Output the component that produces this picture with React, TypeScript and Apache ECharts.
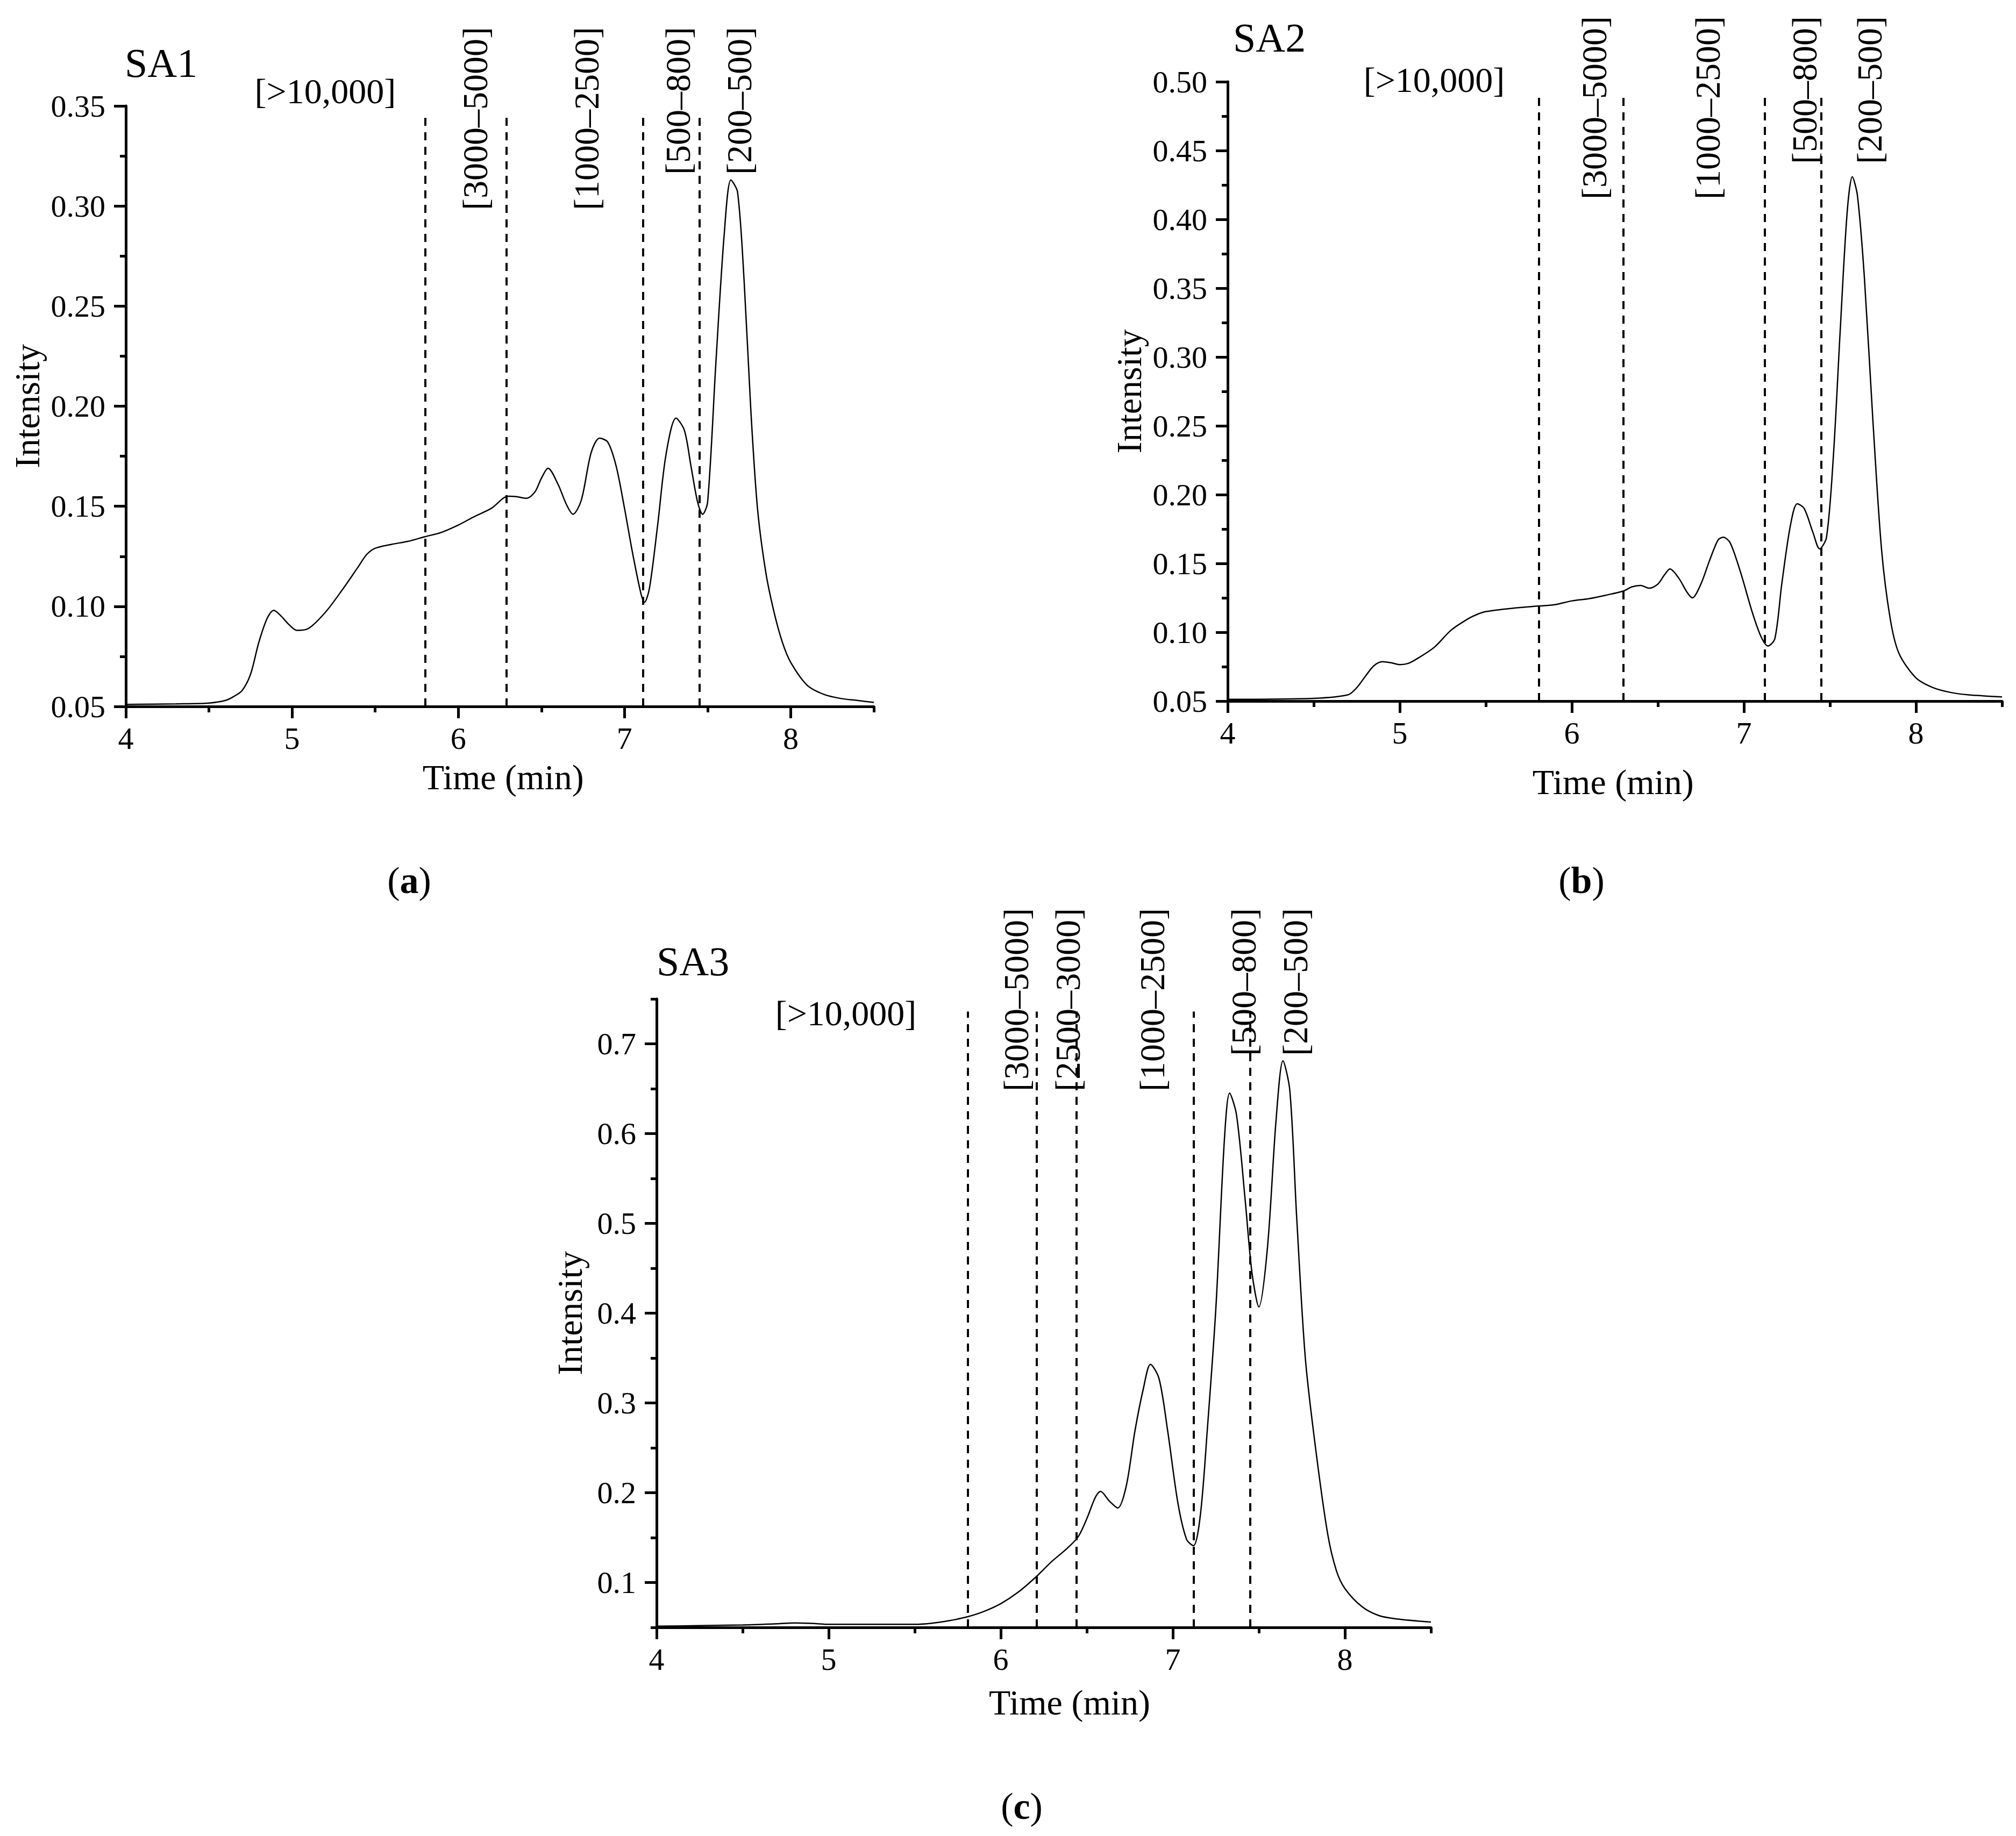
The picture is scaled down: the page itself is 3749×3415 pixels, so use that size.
import React, { useEffect, useRef } from "react";
import * as echarts from "echarts";

const W = 3749;
const H = 3415;
const FONT = '"Liberation Serif", "Times New Roman", serif';

// ---------- data ----------
const timeA = [4.0, 4.3, 4.5, 4.6, 4.65, 4.7, 4.75, 4.8, 4.85, 4.89, 4.93, 4.98, 5.03, 5.1, 5.2, 5.3, 5.4, 5.45, 5.5, 5.6, 5.7, 5.8, 5.9, 6.0, 6.1, 6.2, 6.3, 6.35, 6.41, 6.46, 6.5, 6.54, 6.6, 6.65, 6.69, 6.74, 6.8, 6.85, 6.9, 6.95, 7.0, 7.05, 7.1, 7.12, 7.15, 7.2, 7.25, 7.31, 7.36, 7.4, 7.44, 7.47, 7.5, 7.55, 7.6, 7.64, 7.68, 7.72, 7.76, 7.8, 7.85, 7.9, 7.95, 8.0, 8.1, 8.2, 8.3, 8.4, 8.5];
const intensityA = [0.051, 0.0513, 0.0517, 0.053, 0.055, 0.058, 0.066, 0.082, 0.094, 0.098, 0.0955, 0.091, 0.088, 0.089, 0.097, 0.108, 0.12, 0.126, 0.129, 0.131, 0.1325, 0.1348, 0.137, 0.1406, 0.145, 0.149, 0.155, 0.1548, 0.154, 0.157, 0.164, 0.169, 0.161, 0.151, 0.146, 0.153, 0.177, 0.184, 0.182, 0.17, 0.149, 0.126, 0.106, 0.102, 0.109, 0.141, 0.176, 0.194, 0.188, 0.17, 0.152, 0.146, 0.152, 0.222, 0.286, 0.313, 0.307, 0.262, 0.198, 0.149, 0.117, 0.097, 0.082, 0.072, 0.0605, 0.056, 0.054, 0.053, 0.052];

const timeB = [4.0, 4.5, 4.7, 4.75, 4.8, 4.85, 4.9, 4.95, 5.0, 5.05, 5.1, 5.2, 5.3, 5.4, 5.45, 5.5, 5.6, 5.7, 5.8, 5.9, 6.0, 6.1, 6.2, 6.3, 6.35, 6.4, 6.45, 6.5, 6.54, 6.57, 6.62, 6.67, 6.7, 6.75, 6.8, 6.85, 6.88, 6.92, 6.98, 7.05, 7.1, 7.14, 7.18, 7.22, 7.27, 7.31, 7.35, 7.4, 7.44, 7.48, 7.52, 7.56, 7.6, 7.63, 7.66, 7.7, 7.75, 7.8, 7.85, 7.9, 8.0, 8.1, 8.2, 8.3, 8.5];
const intensityB = [0.0513, 0.052, 0.0546, 0.0597, 0.068, 0.0757, 0.0786, 0.0778, 0.0765, 0.0774, 0.0807, 0.089, 0.1017, 0.11, 0.113, 0.115, 0.1167, 0.118, 0.119, 0.12, 0.1228, 0.1244, 0.127, 0.13, 0.133, 0.134, 0.132, 0.135, 0.142, 0.146, 0.1396, 0.129, 0.125, 0.135, 0.152, 0.167, 0.169, 0.165, 0.1438, 0.114, 0.0967, 0.09, 0.0954, 0.135, 0.1774, 0.1934, 0.19, 0.173, 0.1606, 0.169, 0.228, 0.32, 0.405, 0.431, 0.417, 0.358, 0.253, 0.16, 0.11, 0.085, 0.0668, 0.0597, 0.0563, 0.0546, 0.053];

const timeC = [4.0, 4.5, 4.7, 4.8, 4.9, 5.0, 5.5, 5.6, 5.7, 5.8, 5.9, 6.0, 6.1, 6.2, 6.3, 6.38, 6.45, 6.5, 6.55, 6.58, 6.63, 6.68, 6.73, 6.78, 6.83, 6.87, 6.92, 6.97, 7.03, 7.08, 7.12, 7.16, 7.2, 7.25, 7.3, 7.33, 7.37, 7.42, 7.46, 7.5, 7.55, 7.6, 7.64, 7.68, 7.72, 7.77, 7.83, 7.9, 7.95, 8.0, 8.1, 8.2, 8.3, 8.5];
const intensityC = [0.0513, 0.0527, 0.054, 0.055, 0.0545, 0.0534, 0.0534, 0.0547, 0.0575, 0.0615, 0.0676, 0.0764, 0.089, 0.1054, 0.124, 0.137, 0.151, 0.171, 0.195, 0.2015, 0.191, 0.183, 0.208, 0.269, 0.317, 0.343, 0.327, 0.269, 0.188, 0.148, 0.141, 0.175, 0.269, 0.405, 0.594, 0.645, 0.621, 0.527, 0.445, 0.407, 0.473, 0.615, 0.681, 0.648, 0.506, 0.35, 0.249, 0.154, 0.1136, 0.0933, 0.073, 0.063, 0.0595, 0.056];

// dashed fraction boundaries (min)
const cutsA = [5.8, 6.29, 7.11, 7.45];
const cutsB = [5.81, 6.3, 7.12, 7.45];
const cutsC = [5.81, 6.21, 6.44, 7.12, 7.45];

// fraction labels (molecular weight ranges) and their time positions
const rangesAB = ["[3000–5000]", "[1000–2500]", "[500–800]", "[200–500]"];
const rangesC = ["[3000–5000]", "[2500–3000]", "[1000–2500]", "[500–800]", "[200–500]"];
const rangePosA = [6.1, 6.77, 7.32, 7.69];
const rangePosB = [6.13, 6.79, 7.35, 7.73];
const rangePosC = [6.09, 6.39, 6.88, 7.41, 7.71];
const highLabel = "[>10,000]";

// tick values
const xTicks = [4, 5, 6, 7, 8];
const yTicksA = [0.05, 0.1, 0.15, 0.2, 0.25, 0.3, 0.35];
const yTicksB = [0.05, 0.1, 0.15, 0.2, 0.25, 0.3, 0.35, 0.4, 0.45, 0.5];
const yTicksC = [0.1, 0.2, 0.3, 0.4, 0.5, 0.6, 0.7];

// ---------- layout ----------
const panels = [
  {
    title: "SA1", letter: "a", time: timeA, value: intensityA, cuts: cutsA, cutTop: 0.344,
    ranges: rangesAB, rangePos: rangePosA, rangeTop: 50,
    yMin: 0.05, yMax: 0.35, yTicks: yTicksA, yMinorStep: 0.025, dec: 2,
    grid: { left: 234, top: 197, width: 1391, height: 1117 },
    titleXY: [232, 117], highX: 5.2, highY: 169, xTitleX: 6.27, xTitleY: 1445, yTitleX: 50, letterXY: [761, 1637],
  },
  {
    title: "SA2", letter: "b", time: timeB, value: intensityB, cuts: cutsB, cutTop: 0.492,
    ranges: rangesAB, rangePos: rangePosB, rangeTop: 30,
    yMin: 0.05, yMax: 0.5, yTicks: yTicksB, yMinorStep: 0.025, dec: 2,
    grid: { left: 2283, top: 152, width: 1440, height: 1152 },
    titleXY: [2293, 70], highX: 5.2, highY: 148, xTitleX: 6.24, xTitleY: 1454, yTitleX: 2099, letterXY: [2941, 1637],
  },
  {
    title: "SA3", letter: "c", time: timeC, value: intensityC, cuts: cutsC, cutTop: 0.736,
    ranges: rangesC, rangePos: rangePosC, rangeTop: 1689,
    yMin: 0.05, yMax: 0.75, yTicks: yTicksC, yMinorStep: 0.05, dec: 1,
    grid: { left: 1221, top: 1858, width: 1440, height: 1169 },
    titleXY: [1221, 1788], highX: 5.1, highY: 1884, xTitleX: 6.4, xTitleY: 3166, yTitleX: 1059, letterXY: [1900, 3359],
  },
];

const AXIS_W = 5;

export default function App() {
  const ref = useRef<HTMLDivElement>(null);

  useEffect(() => {
    if (!ref.current) return;
    const chart = echarts.init(ref.current, null, { renderer: "svg", width: W, height: H });

    const xAxes: any[] = [];
    const yAxes: any[] = [];
    panels.forEach((p, i) => {
      xAxes.push({
        type: "value", gridIndex: i, position: "bottom", offset: 0, min: 4, max: 8.5, interval: 1,
        axisLine: { show: true, onZero: false, lineStyle: { color: "#000", width: AXIS_W } },
        axisTick: { show: true, length: 22, customValues: xTicks, lineStyle: { color: "#000", width: AXIS_W } },
        axisLabel: { show: true, customValues: xTicks, margin: 30, color: "#000", fontSize: 58, fontFamily: FONT },
        splitLine: { show: false },
      });
      xAxes.push({
        type: "value", gridIndex: i, position: "bottom", offset: 0, min: 4, max: 8.5, interval: 0.5,
        axisLine: { show: false, onZero: false },
        axisTick: { show: true, length: 11, lineStyle: { color: "#000", width: AXIS_W } },
        axisLabel: { show: false },
        splitLine: { show: false },
      });
      const mainY: any = {
        type: "value", gridIndex: i, position: "left", offset: 0, min: p.yMin, max: p.yMax,
        axisLine: { show: true, onZero: false, lineStyle: { color: "#000", width: AXIS_W } },
        axisTick: { show: true, length: 22, customValues: p.yTicks, lineStyle: { color: "#000", width: AXIS_W } },
        axisLabel: {
          show: true, customValues: p.yTicks, margin: 38, color: "#000", fontSize: 58, fontFamily: FONT,
          formatter: (v: number) => v.toFixed(p.dec),
        },
        splitLine: { show: false },
      };
      if (p.dec === 2) mainY.interval = 0.05;
      yAxes.push(mainY);
      yAxes.push({
        type: "value", gridIndex: i, position: "left", offset: 0, min: p.yMin, max: p.yMax, interval: p.yMinorStep,
        axisLine: { show: false, onZero: false },
        axisTick: { show: true, length: 11, lineStyle: { color: "#000", width: AXIS_W } },
        axisLabel: { show: false },
        splitLine: { show: false },
      });
    });

    const series = panels.map((p, i) => ({
      type: "line",
      name: p.title,
      xAxisIndex: 2 * i,
      yAxisIndex: 2 * i,
      data: p.time.map((t, k) => [t, p.value[k]]),
      symbol: "none",
      showSymbol: false,
      smooth: 0.3,
      silent: true,
      emphasis: { disabled: true },
      lineStyle: { color: "#000", width: 2.5 },
      markLine: {
        silent: true,
        symbol: ["none", "none"],
        label: { show: false },
        emphasis: { disabled: true },
        lineStyle: { color: "#000", width: 4, type: [15, 12] },
        data: p.cuts.map((c) => [{ coord: [c, p.yMin] }, { coord: [c, p.cutTop] }]),
      },
    }));

    chart.setOption({
      animation: false,
      backgroundColor: "#fff",
      grid: panels.map((p) => ({ ...p.grid, containLabel: false, outerBoundsMode: "none" })),
      xAxis: xAxes,
      yAxis: yAxes,
      series,
    });

    const txt = (x: number, y: number, text: string, size: number, align: string, vAlign: string, rotation = 0, weight = "normal") => ({
      type: "text",
      x, y, rotation,
      silent: true,
      style: {
        text, fill: "#000", fontSize: size, fontFamily: FONT, fontWeight: weight,
        align, verticalAlign: vAlign, textAlign: align, textVerticalAlign: vAlign,
      },
    });

    const elements: any[] = [];
    panels.forEach((p, i) => {
      const toPx = (x: number, y: number) => chart.convertToPixel({ seriesIndex: i }, [x, y]) as number[];
      const midY = p.grid.top + p.grid.height / 2;
      elements.push(txt(p.titleXY[0], p.titleXY[1], p.title, 76, "left", "middle"));
      elements.push(txt(toPx(p.highX, p.yMin)[0], p.highY, highLabel, 66, "center", "middle"));
      p.ranges.forEach((r, k) => {
        elements.push(txt(toPx(p.rangePos[k], p.yMin)[0], p.rangeTop, r, 66, "right", "middle", Math.PI / 2));
      });
      elements.push(txt(toPx(p.xTitleX, p.yMin)[0], p.xTitleY, "Time (min)", 66, "center", "middle"));
      elements.push(txt(p.yTitleX, midY, "Intensity", 66, "center", "middle", Math.PI / 2));
      elements.push({
        type: "text",
        x: p.letterXY[0], y: p.letterXY[1],
        silent: true,
        style: {
          text: "{n|(}{b|" + p.letter + "}{n|)}",
          align: "center", verticalAlign: "middle", textAlign: "center", textVerticalAlign: "middle",
          fill: "#000",
          fontSize: 70, fontFamily: FONT,
          rich: {
            n: { fontSize: 70, fontFamily: FONT, fill: "#000", color: "#000" },
            b: { fontSize: 70, fontFamily: FONT, fontWeight: "bold", fill: "#000", color: "#000" },
          },
        },
      });
    });
    chart.setOption({ graphic: { elements } });

    return () => chart.dispose();
  }, []);

  return (
    <div
      ref={ref}
      style={{ position: "absolute", left: 0, top: 0, width: W, height: H, background: "#fff" }}
    />
  );
}
